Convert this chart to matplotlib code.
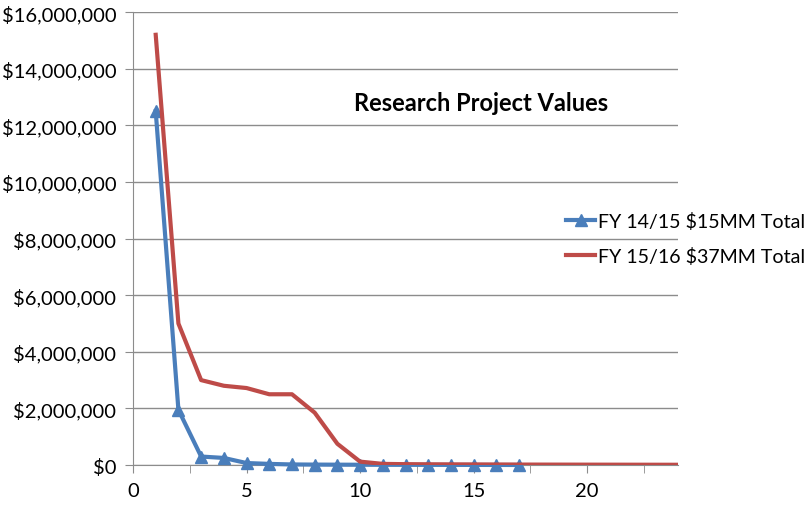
import numpy as np
import matplotlib.pyplot as plt
from matplotlib.ticker import FuncFormatter, MultipleLocator

# project rank vs project value
x_1415 = [1, 2, 3, 4, 5, 6, 7, 8, 9, 10, 11, 12, 13, 14, 15, 16, 17]
v_1415 = [12500000, 1950000, 300000, 250000, 70000, 40000, 20000, 15000, 12000,
          10000, 8000, 7000, 6000, 5000, 4000, 3000, 2000]

x_1516 = list(range(1, 25))
v_1516 = [15200000, 5000000, 3000000, 2800000, 2720000, 2500000, 2500000, 1850000,
          750000, 120000, 40000, 30000, 25000, 22000, 20000, 18000, 16000, 15000,
          14000, 13000, 12000, 11000, 10000, 9000]

label_1415 = 'FY 14/15 $15MM Total'
label_1516 = 'FY 15/16 $37MM Total'
title = 'Research Project Values'

plt.rcParams['font.family'] = ['Lato', 'DejaVu Sans']

fig = plt.figure(figsize=(8.09, 5.06), dpi=100)
ax = fig.add_axes([0.1644, 0.079, 0.6737, 0.895])

ax.plot(x_1415, v_1415, color='#4A7EBB', lw=3, marker='^', ms=9,
        label=label_1415, zorder=3, clip_on=False)
ax.plot(x_1516, v_1516, color='#BE4B48', lw=3, label=label_1516, zorder=4)

ax.set_xlim(0, 24)
ax.set_ylim(0, 16000000)
ax.xaxis.set_major_locator(MultipleLocator(5))
ax.xaxis.set_minor_locator(MultipleLocator(2.5))
ax.yaxis.set_major_locator(MultipleLocator(2000000))
ax.yaxis.set_major_formatter(FuncFormatter(lambda v, p: '${:,.0f}'.format(v)))

ax.grid(axis='y', color='#8C8C8C', lw=1)
ax.set_axisbelow(True)
for s in ['top', 'right']:
    ax.spines[s].set_visible(False)
for s in ['left', 'bottom']:
    ax.spines[s].set_color('#8C8C8C')
ax.tick_params(axis='both', which='both', color='#8C8C8C', labelsize=14.5)
ax.tick_params(axis='x', which='both', length=6, pad=6)
ax.tick_params(axis='y', length=6, pad=6)

ax.text(0.638, 0.80, title, transform=ax.transAxes, ha='center', va='center',
        fontsize=17, fontweight='bold')

leg = ax.legend(loc='center left', bbox_to_anchor=(0.787, 0.5), frameon=False,
                fontsize=14.1, handlelength=1.5, handletextpad=0.15,
                labelspacing=0.85, borderaxespad=0, borderpad=0.2)

fig.savefig('out.png', dpi=100)
